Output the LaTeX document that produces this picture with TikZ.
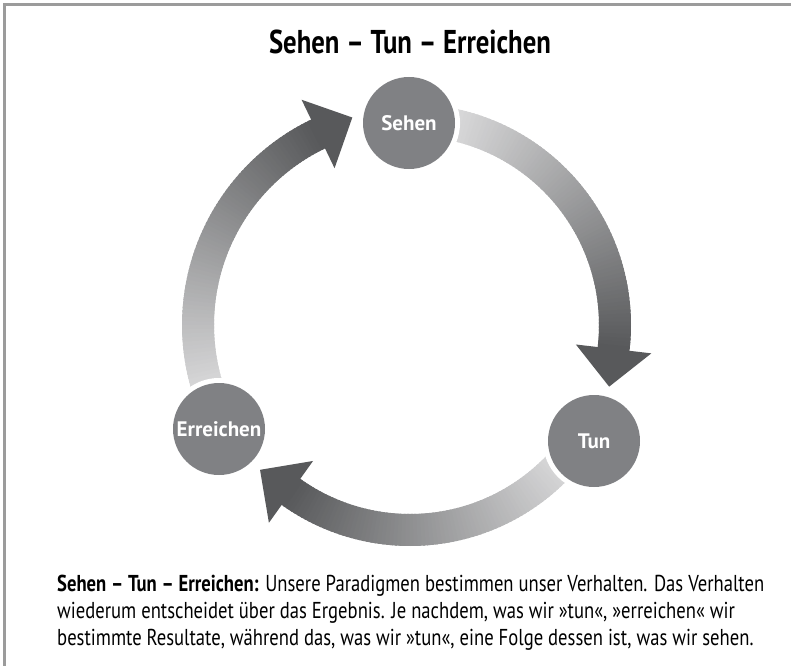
\documentclass[tikz,border=0pt]{standalone}
\usepackage{fontspec}
\setmainfont{PT Sans}[FakeStretch=0.81]
\newfontfamily\labelfont{PT Sans}
\usetikzlibrary{backgrounds}
\definecolor{arrowdark}{HTML}{58595B}
\definecolor{arrowlight}{HTML}{DCDCDD}
\definecolor{circfill}{HTML}{808184}
\definecolor{framegray}{HTML}{9B9B9B}
% cx, cy, R, tail angle, head-base angle (pixel coords, y downwards)
\newcommand\gradarc[5]{%
  \begin{scope}[shift={(#1,#2)}]
    \foreach \i in {0,...,79}{%
      \pgfmathsetmacro\ta{#4+(#5-#4)*\i/80}%
      \pgfmathsetmacro\tb{#4+(#5-#4)*(\i+1.6)/80}%
      \pgfmathsetmacro\pc{100*\i/79}%
      \fill[arrowdark!\pc!arrowlight] (\ta:{#3-16}) -- (\ta:{#3+16}) -- (\tb:{#3+16}) -- (\tb:{#3-16}) -- cycle;
    }
    \pgfmathsetmacro\tipang{#5+atan(38/#3)}%
    \pgfmathsetmacro\tiprad{veclen(#3,38)}%
    \fill[arrowdark] (#5:{#3-38}) -- (#5:{#3+38}) -- (\tipang:\tiprad) -- cycle;
  \end{scope}}
\begin{document}
\begin{tikzpicture}[x=1pt,y=-1pt,
  stage/.style={circle, fill=circfill, inner sep=0pt, minimum size=92pt,
    text=white, font=\labelfont\bfseries\fontsize{21}{21}\selectfont,
    preaction={draw=white, line width=10pt}},
  titletext/.style={font=\bfseries\fontsize{33}{36}\selectfont, inner sep=0pt},
  captext/.style={font=\fontsize{23}{27}\selectfont, inner sep=0pt, anchor=base west}]
\useasboundingbox (0,0) rectangle (791,666);
% frame (top and left edges)
\fill[framegray] (3,3.5) rectangle (791,6.5);
\fill[framegray] (3,3.5) rectangle (6,666);

\node[titletext] (title) at (410,42) {Sehen – Tun – Erreichen};

\node[stage] (sehen) at (409,123) {Sehen};
\node[stage] (tun) at (594,441) {Tun};
\node[stage] (erreichen) at (219,429) {Erreichen};

\begin{scope}[on background layer]
  \gradarc{410}{325}{212}{160}{244.3}
  \gradarc{410}{325}{205}{-80}{6.7}
  \gradarc{410}{325}{205}{40}{125.5}
\end{scope}

\node[captext] (cap1) at (57,591) {\textbf{Sehen – Tun – Erreichen:} Unsere Paradigmen bestimmen unser Verhalten. Das Verhalten};
\node[captext] (cap2) at (57,618) {wiederum entscheidet über das Ergebnis. Je nachdem, was wir »tun«, »erreichen« wir};
\node[captext] (cap3) at (57,645) {bestimmte Resultate, während das, was wir »tun«, eine Folge dessen ist, was wir sehen.};
\end{tikzpicture}
\end{document}
